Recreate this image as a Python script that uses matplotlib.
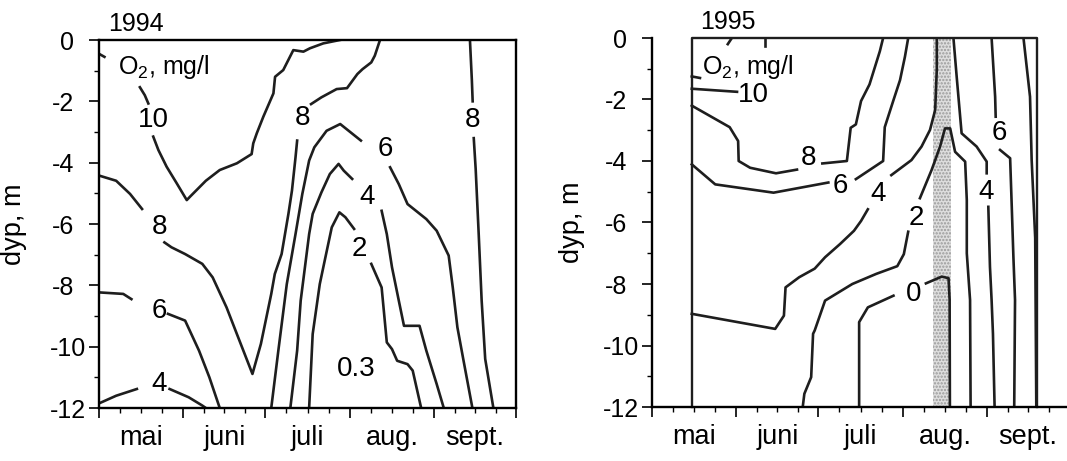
import matplotlib
matplotlib.use('Agg')
import matplotlib.pyplot as plt
import matplotlib.transforms as mtrans

plt.rcParams['font.family'] = ['Liberation Sans', 'DejaVu Sans']
plt.rcParams['mathtext.fontset'] = 'custom'
plt.rcParams['mathtext.rm'] = 'Liberation Sans'
plt.rcParams['hatch.linewidth'] = 1.1

# x = days since 1 May, y = depth (m)
month_starts = [0, 31, 61, 92, 123, 153]
month_names = ['mai', 'juni', 'juli', 'aug.', 'sept.']
depth_ticks = [0, -2, -4, -6, -8, -10, -12]
depth_labels = ['0', '-2', '-4', '-6', '-8', '-10', '-12']

# ---- 1994 isolines (O2, mg/l), split where the labels sit ----
L94_10_a = [(0, -0.45), (2.0, -0.55)]
L94_10_b = [(15.0, -1.54), (16.8, -1.8), (18.1, -2.07)]
L94_10_c = [(19.9, -3.15), (21.8, -3.59), (24.8, -4.13), (28.5, -4.67), (32.2, -5.22), (33.5, -5.1),
            (39.2, -4.59), (44.3, -4.24), (50.6, -4.02), (56.0, -3.72), (56.6, -3.37), (57.9, -3.04),
            (60.3, -2.5), (64.0, -1.74), (64.6, -1.2), (67.6, -0.98), (71.3, -0.33), (75.0, -0.38),
            (77.4, -0.27), (82.3, -0.11), (88.4, 0)]
L94_8_a = [(0, -4.42), (6.3, -4.59), (11.4, -5.02), (15.8, -5.51)]
L94_8_b = [(24.0, -6.6), (26.6, -6.76), (31.6, -6.98), (37.9, -7.3), (41.7, -7.74), (46.8, -8.72),
           (50.6, -9.59), (56.3, -10.89), (59.4, -9.91), (63.2, -8.28), (64.5, -7.63), (67.0, -6.98),
           (69.5, -5.67), (70.8, -4.91), (72.1, -3.83), (72.7, -3.28)]
L94_8_c = [(77.8, -2.09), (81.6, -1.87), (87.2, -1.6), (91.0, -1.57), (94.8, -1.11), (96.7, -0.95),
           (99.9, -0.73), (101.2, -0.51), (103.1, 0)]
L94_6_a = [(0, -8.23), (8.9, -8.28), (11.9, -8.45)]
L94_6_b = [(25.3, -8.93), (31.6, -9.15), (36.7, -10.13), (40.5, -11.0), (44.3, -12)]
L94_4_a = [(0, -11.85), (6.3, -11.6), (13.9, -11.38)]
L94_4_b = [(25.9, -11.38), (32.9, -11.65), (37.9, -11.92), (39.2, -12)]
L94_6_c = [(63.2, -12), (65.8, -10.13), (68.9, -7.96), (72.1, -6.33), (74.6, -5.02), (77.1, -3.93),
           (79.0, -3.5), (83.5, -2.96), (88.5, -2.74), (92.3, -3.01), (96.1, -3.28)]
L94_6_d = [(106.8, -4.15), (110.0, -4.7), (113.2, -5.35), (116.3, -5.57), (120.1, -5.84),
           (123.9, -6.22), (128.3, -7.03), (129.8, -8.07), (131.5, -9.37), (133.7, -10.43), (137.0, -12)]
L94_4_c = [(70.2, -12), (72.7, -10.13), (74.0, -8.5), (77.1, -6.33), (78.4, -5.67), (81.6, -4.97),
           (84.7, -4.37), (87.9, -4.04), (89.8, -4.26), (92.9, -4.53)]
L94_4_d = [(103.7, -5.57), (105.6, -6.33), (107.5, -7.41), (110.0, -8.5), (111.9, -9.32),
           (117.6, -9.32), (120.1, -10.13), (123.9, -11.22), (126.5, -12)]
L94_2_a = [(77.1, -12), (78.4, -9.59), (81.0, -7.96), (82.8, -7.2), (85.4, -6.11), (88.2, -5.62),
           (90.4, -5.78), (93.6, -6.16)]
L94_2_b = [(99.9, -7.3), (103.7, -8.07), (105.6, -9.86), (107.5, -10.08), (109.4, -10.46),
           (113.2, -10.57), (115.1, -10.78), (118.2, -12)]
L94_8_d = [(136.1, 0), (136.8, -1.3), (137.1, -2.0)]
L94_8_e = [(137.5, -3.2), (138.2, -4.2), (139.3, -6.3), (140.4, -8.5), (141.7, -10.4), (144.7, -12)]

# label text, day, depth
labels_94 = [('10', 20.0, -2.6), ('8', 74.7, -2.55), ('8', 22.1, -6.1), ('6', 22.1, -8.83),
             ('4', 22.1, -11.22), ('6', 105.0, -3.55), ('4', 98.4, -5.13), ('2', 95.5, -6.82),
             ('0.3', 94.2, -10.73), ('8', 137.0, -2.6)]

# ---- 1995 isolines ----
R95_box_left = 14.6
R95_box_right = 141.2
R95_anoxic = (103.2, 109.7)   # shaded period
R95_t1 = [(27.8, -0.2), (29.3, 0)]
R95_t2 = [(41.3, -0.27), (41.3, 0)]
R95_10_a = [(14.6, -1.25), (17.6, -1.3)]
R95_10_b = [(14.6, -1.65), (31.2, -1.75)]
R95_8_a = [(14.6, -2.2), (28.5, -2.9), (31.6, -3.35), (31.8, -4.0), (36.0, -4.22), (45.5, -4.4),
           (53.2, -4.28)]
R95_8_b = [(62.5, -4.08), (71.5, -4.0), (72.9, -2.92), (74.8, -2.81), (76.7, -2.05), (79.8, -1.51),
           (81.7, -0.97), (83.6, -0.43), (84.8, 0)]
R95_6_a = [(14.6, -4.11), (23.2, -4.76), (44.6, -5.03), (64.7, -4.7)]
R95_6_b = [(74.8, -4.59), (84.8, -4.0), (85.4, -2.9), (88.6, -2.02), (91.0, -1.37), (92.8, -0.61),
           (94.0, 0)]
R95_4_a = [(14.6, -8.97), (45.2, -9.46), (48.4, -9.03), (49.0, -8.11), (54.0, -7.78), (59.7, -7.5),
           (63.5, -7.13), (69.0, -6.7), (74.1, -6.27), (76.7, -5.95), (79.2, -5.57)]
R95_4_b = [(87.8, -4.46), (95.2, -3.97), (98.9, -3.53), (102.0, -2.99), (103.9, -2.34), (104.5, -1.0),
           (104.5, 0)]
R95_2_a = [(55.3, -12), (55.9, -11.57), (58.4, -11.03), (59.1, -9.62), (59.7, -9.51), (63.5, -8.54),
           (73.5, -8.0), (82.3, -7.67), (90.0, -7.42), (92.4, -7.03), (94.0, -6.3)]
R95_2_b = [(98.3, -5.21), (102.6, -4.29), (105.7, -3.53), (107.5, -2.94), (109.4, -2.94),
           (111.2, -3.7), (114.9, -4.02), (115.5, -5.27), (115.5, -7.0), (116.7, -8.52), (116.9, -12)]
R95_0_a = [(76.0, -12), (76.0, -9.24), (79.2, -8.76), (88.6, -8.38)]
R95_0_b = [(100.5, -7.98), (106.3, -7.76), (108.8, -7.81), (109.2, -8.5), (109.3, -12)]
R95_4_c = [(110.6, 0), (111.8, -1.27), (113.6, -3.1), (119.1, -3.53), (122.8, -4.02), (122.8, -4.4)]
R95_4_d = [(123.4, -5.49), (124.0, -7.44), (124.6, -8.52), (125.1, -9.62), (125.7, -12)]
R95_6_c = [(124.6, 0), (125.9, -1.91), (126.1, -2.56)]
R95_6_d = [(127.7, -3.64), (131.4, -3.91), (132.0, -5.49), (132.6, -7.12), (133.2, -8.52), (132.9, -12)]
R95_8_c = [(136.3, 0), (138.7, -1.91), (139.3, -3.97), (140.6, -6.5), (141.0, -12)]

labels_95 = [('10', 37.2, -1.85), ('8', 57.6, -3.9), ('6', 69.1, -4.81), ('4', 82.9, -5.08),
             ('2', 96.8, -5.84), ('0', 96.1, -8.32), ('4', 122.6, -5.0), ('6', 127.5, -3.1)]

lines_94 = [L94_10_a, L94_10_b, L94_10_c, L94_8_a, L94_8_b, L94_8_c, L94_6_a, L94_6_b, L94_4_a,
            L94_4_b, L94_6_c, L94_6_d, L94_4_c, L94_4_d, L94_2_a, L94_2_b, L94_8_d, L94_8_e]
lines_95 = [R95_t1, R95_t2, R95_10_a, R95_10_b, R95_8_a, R95_8_b, R95_6_a, R95_6_b, R95_4_a,
            R95_4_b, R95_2_a, R95_2_b, R95_0_a, R95_0_b, R95_4_c, R95_4_d, R95_6_c, R95_6_d, R95_8_c]

line_col = '#1e1e1e'
lab_size = 20

fig = plt.figure(figsize=(10.67, 4.61), dpi=100)
ax1 = fig.add_axes([99 / 1067, 1 - 408 / 461, 417 / 1067, 368 / 461])
ax2 = fig.add_axes([652 / 1067, 1 - 407 / 461, 417 / 1067, 369 / 461])


def setup_axes(ax, label_x):
    ax.set_xlim(month_starts[0], month_starts[-1])
    ax.set_ylim(-12, 0)
    ax.set_xticks(month_starts)
    ax.set_xticklabels([])
    minors = []
    minor_labels = []
    for i in range(len(month_names)):
        a, b = month_starts[i], month_starts[i + 1]
        for k in (1, 2, 3):
            minors.append(a + (b - a) * k / 4)
            minor_labels.append(month_names[i] if k == 2 else '')
    ax.set_xticks(minors, minor=True)
    ax.set_xticklabels(minor_labels, minor=True, fontsize=19.5)
    ax.set_yticks(depth_ticks)
    ax.set_yticklabels(depth_labels, fontsize=18)
    ax.set_yticks(range(-11, 0, 2), minor=True)
    ax.tick_params(which='major', length=7.5, width=1.2, direction='out', pad=2)
    ax.tick_params(which='minor', length=3.5, width=1.0, direction='out')
    ax.tick_params(axis='x', which='minor', pad=9)
    for sp in ax.spines.values():
        sp.set_linewidth(1.7)
    # single-digit labels sit further from the axis in the original
    shift = mtrans.ScaledTranslation(-12 / 100, 0, fig.dpi_scale_trans)
    for t in ax.get_yticklabels():
        if len(t.get_text()) <= 2:
            t.set_transform(t.get_transform() + shift)
    ax.set_ylabel('dyp, m', fontsize=19.5)
    ax.yaxis.set_label_coords(label_x, 0.5)


setup_axes(ax1, -0.172)
setup_axes(ax2, -0.161)

# 1994 panel
for seg in lines_94:
    ax1.plot([p[0] for p in seg], [p[1] for p in seg], color=line_col, lw=1.9)
for txt, d, z in labels_94:
    ax1.text(d, z, txt, fontsize=lab_size, ha='center', va='center')
ax1.text(3.3, 0.3, '1994', fontsize=18, ha='left', va='baseline', clip_on=False)
ax1.text(7.1, -1.11, r'O$_2$, mg/l', fontsize=18, ha='left', va='baseline')

# 1995 panel
ax2.spines['top'].set_visible(False)
ax2.spines['right'].set_visible(False)
ax2.fill_betweenx([-12, 0], R95_anoxic[0], R95_anoxic[1], facecolor='#dedede',
                  hatch='.....', edgecolor='#9a9a9a', linewidth=0)
ax2.plot([R95_box_left, R95_box_left, R95_box_right, R95_box_right], [-12, 0, 0, -12],
         color=line_col, lw=1.7, clip_on=False)
for seg in lines_95:
    ax2.plot([p[0] for p in seg], [p[1] for p in seg], color=line_col, lw=1.9)
for txt, d, z in labels_95:
    ax2.text(d, z, txt, fontsize=lab_size, ha='center', va='center')
ax2.text(17.6, 0.3, '1995', fontsize=18, ha='left', va='baseline', clip_on=False)
ax2.text(18.2, -1.17, r'O$_2$, mg/l', fontsize=18, ha='left', va='baseline')

fig.savefig('out.png', dpi=100)
